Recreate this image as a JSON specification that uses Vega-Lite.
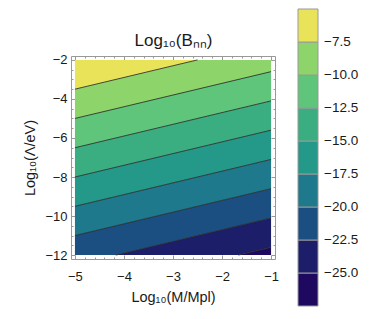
{
  "$schema": "https://vega.github.io/schema/vega-lite/v6.json",
  "autosize": "none",
  "width": 204,
  "height": 203,
  "padding": {"left": 71, "top": 56, "right": 102, "bottom": 60},
  "background": "white",
  "config": {
    "view": {"stroke": null},
    "axis": {"labelFont": "Liberation Sans", "titleFont": "Liberation Sans", "labelColor": "#1a1a1a", "titleColor": "#1a1a1a", "titleFontWeight": "normal", "labelFontSize": 13, "titleFontSize": 14.5, "grid": false, "domainColor": "#999999", "tickColor": "#999999", "labelFlush": false},
    "legend": {"labelFont": "Liberation Sans", "labelColor": "#1a1a1a"}
  },
  "datasets": {
    "bands": [
      {"band": -26.25, "x": -1.6667, "ylo": -12, "yhi": -12},
      {"band": -26.25, "x": -1, "ylo": -12, "yhi": -11.6},
      {"band": -23.75, "x": -4.1667, "ylo": -12, "yhi": -12},
      {"band": -23.75, "x": -1.6667, "ylo": -12, "yhi": -10.5},
      {"band": -23.75, "x": -1, "ylo": -11.6, "yhi": -10.1},
      {"band": -21.25, "x": -5, "ylo": -12, "yhi": -11},
      {"band": -21.25, "x": -4.1667, "ylo": -12, "yhi": -10.5},
      {"band": -21.25, "x": -1, "ylo": -10.1, "yhi": -8.6},
      {"band": -18.75, "x": -5, "ylo": -11, "yhi": -9.5},
      {"band": -18.75, "x": -1, "ylo": -8.6, "yhi": -7.1},
      {"band": -16.25, "x": -5, "ylo": -9.5, "yhi": -8},
      {"band": -16.25, "x": -1, "ylo": -7.1, "yhi": -5.6},
      {"band": -13.75, "x": -5, "ylo": -8, "yhi": -6.5},
      {"band": -13.75, "x": -1, "ylo": -5.6, "yhi": -4.1},
      {"band": -11.25, "x": -5, "ylo": -6.5, "yhi": -5},
      {"band": -11.25, "x": -1, "ylo": -4.1, "yhi": -2.6},
      {"band": -8.75, "x": -5, "ylo": -5, "yhi": -3.5},
      {"band": -8.75, "x": -2.5, "ylo": -3.5, "yhi": -2},
      {"band": -8.75, "x": -1, "ylo": -2.6, "yhi": -2},
      {"band": -6.25, "x": -5, "ylo": -3.5, "yhi": -2},
      {"band": -6.25, "x": -2.5, "ylo": -2, "yhi": -2}
    ],
    "lines": [
      {"level": -7.5, "x": -5, "y": -3.5},
      {"level": -7.5, "x": -2.5, "y": -2},
      {"level": -10, "x": -5, "y": -5},
      {"level": -10, "x": -1, "y": -2.6},
      {"level": -12.5, "x": -5, "y": -6.5},
      {"level": -12.5, "x": -1, "y": -4.1},
      {"level": -15, "x": -5, "y": -8},
      {"level": -15, "x": -1, "y": -5.6},
      {"level": -17.5, "x": -5, "y": -9.5},
      {"level": -17.5, "x": -1, "y": -7.1},
      {"level": -20, "x": -5, "y": -11},
      {"level": -20, "x": -1, "y": -8.6},
      {"level": -22.5, "x": -4.1667, "y": -12},
      {"level": -22.5, "x": -1, "y": -10.1},
      {"level": -25, "x": -1.6667, "y": -12},
      {"level": -25, "x": -1, "y": -11.6}
    ]
  },
  "resolve": {"axis": {"x": "independent", "y": "independent"}},
  "layer": [
    {
      "data": {"name": "bands"},
      "mark": {"type": "area", "interpolate": "linear", "opacity": 1},
      "encoding": {
        "x": {"field": "x", "type": "quantitative", "scale": {"domain": [-5.08, -0.92], "nice": false, "zero": false},
          "axis": {"orient": "bottom", "values": [-5, -4, -3, -2, -1], "format": "d", "ticks": false, "labelPadding": 11, "title": "Log₁₀(M/Mpl)", "titlePadding": 7}},
        "y": {"field": "ylo", "type": "quantitative", "scale": {"domain": [-12.2, -1.8], "nice": false, "zero": false},
          "axis": {"orient": "left", "values": [-12, -10, -8, -6, -4, -2], "format": "d", "ticks": false, "labelPadding": 4, "title": "Log₁₀(Λ/eV)", "titlePadding": 7}},
        "y2": {"field": "yhi"},
        "detail": {"field": "band"},
        "color": {"field": "band", "type": "quantitative",
          "scale": {"type": "threshold", "domain": [-25, -22.5, -20, -17.5, -15, -12.5, -10, -7.5],
            "range": ["#1f0960", "#1c1e6a", "#1b4e81", "#1d798b", "#249989", "#3aae80", "#5ec57a", "#8dd56a", "#e9e35a"]},
          "legend": {"type": "gradient", "direction": "vertical", "orient": "none", "legendX": 227, "legendY": -47, "title": null, "format": ".1f",
            "gradientLength": 297, "gradientThickness": 20, "gradientStrokeColor": "#999999", "gradientStrokeWidth": 1,
            "labelFontSize": 13.5, "labelOffset": 6, "labelOverlap": false, "padding": 0}}
      }
    },
    {
      "data": {"name": "lines"},
      "mark": {"type": "line", "color": "#262626", "strokeWidth": 1, "opacity": 0.85},
      "encoding": {
        "x": {"field": "x", "type": "quantitative", "scale": {"domain": [-5.08, -0.92], "nice": false, "zero": false},
          "axis": {"orient": "top", "values": [-5, -4, -3, -2, -1], "labels": false, "tickSize": -4, "title": "Log₁₀(Bₙₙ)", "titleFontSize": 17, "titlePadding": 6}},
        "y": {"field": "y", "type": "quantitative", "scale": {"domain": [-12.2, -1.8], "nice": false, "zero": false},
          "axis": {"orient": "right", "values": [-12, -10, -8, -6, -4, -2], "labels": false, "tickSize": -4, "title": null}},
        "detail": {"field": "level"}
      }
    },
    {
      "data": {"name": "lines"},
      "mark": {"type": "point", "opacity": 0},
      "encoding": {
        "x": {"field": "x", "type": "quantitative", "scale": {"domain": [-5.08, -0.92], "nice": false, "zero": false},
          "axis": {"orient": "bottom", "values": [-5, -4, -3, -2, -1], "labels": false, "domain": false, "tickSize": -4, "title": null}},
        "y": {"field": "y", "type": "quantitative", "scale": {"domain": [-12.2, -1.8], "nice": false, "zero": false},
          "axis": {"orient": "left", "values": [-12, -10, -8, -6, -4, -2], "labels": false, "domain": false, "tickSize": -4, "title": null}}
      }
    },
    {
      "data": {"name": "lines"},
      "mark": {"type": "point", "opacity": 0},
      "encoding": {
        "x": {"field": "x", "type": "quantitative", "scale": {"domain": [-5.08, -0.92], "nice": false, "zero": false},
          "axis": {"orient": "bottom", "values": [-4.8, -4.6, -4.4, -4.2, -3.8, -3.6, -3.4, -3.2, -2.8, -2.6, -2.4, -2.2, -1.8, -1.6, -1.4, -1.2], "labels": false, "domain": false, "tickSize": -2, "title": null}},
        "y": {"field": "y", "type": "quantitative", "scale": {"domain": [-12.2, -1.8], "nice": false, "zero": false},
          "axis": {"orient": "left", "values": [-11.5, -11, -10.5, -9.5, -9, -8.5, -7.5, -7, -6.5, -5.5, -5, -4.5, -3.5, -3, -2.5], "labels": false, "domain": false, "tickSize": -2, "title": null}}
      }
    },
    {
      "data": {"name": "lines"},
      "mark": {"type": "point", "opacity": 0},
      "encoding": {
        "x": {"field": "x", "type": "quantitative", "scale": {"domain": [-5.08, -0.92], "nice": false, "zero": false},
          "axis": {"orient": "top", "values": [-4.8, -4.6, -4.4, -4.2, -3.8, -3.6, -3.4, -3.2, -2.8, -2.6, -2.4, -2.2, -1.8, -1.6, -1.4, -1.2], "labels": false, "domain": false, "tickSize": -2, "title": null}},
        "y": {"field": "y", "type": "quantitative", "scale": {"domain": [-12.2, -1.8], "nice": false, "zero": false},
          "axis": {"orient": "right", "values": [-11.5, -11, -10.5, -9.5, -9, -8.5, -7.5, -7, -6.5, -5.5, -5, -4.5, -3.5, -3, -2.5], "labels": false, "domain": false, "tickSize": -2, "title": null}}
      }
    }
  ]
}
